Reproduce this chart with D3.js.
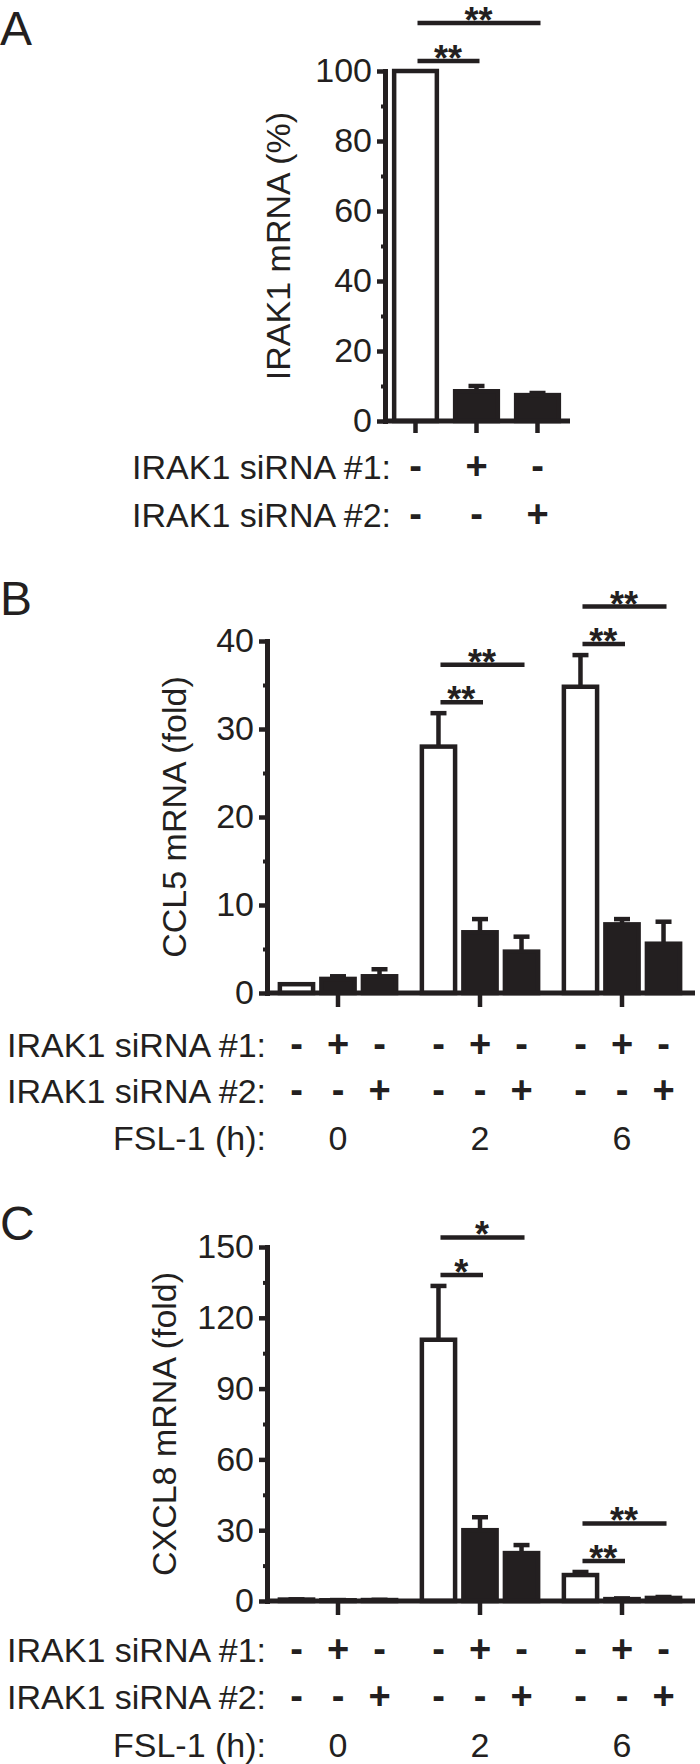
<!DOCTYPE html>
<html>
<head>
<meta charset="utf-8">
<script src="https://cdn.jsdelivr.net/npm/d3@7/dist/d3.min.js"></script>
<style>
  body { margin: 0; background: #fff; }
  svg text { font-family: "Liberation Sans", Arial, sans-serif; fill: #231f20; }
</style>
</head>
<body>
<div id="chart"></div>
<script>
// ---- data ----
const ink = "#231f20";

// panel A: IRAK1 knockdown
const irakValues = [100, 8.5, 7.4];
const irakErrors = [0, 1.5, 0.6];
const irakTicks = [0, 20, 40, 60, 80, 100];
const irakMinor = [10, 30, 50, 70, 90];
const irakSig = [{ from: 0, to: 1, level: 0, label: "**" }, { from: 0, to: 2, level: 1, label: "**" }];

// shared row labels
const si1Row = ["-", "+", "-"];
const si2Row = ["-", "-", "+"];
const fslHours = ["0", "2", "6"];

// panel B: CCL5 (one array per FSL-1 time point)
const ccl5Values = [[1.0, 1.6, 1.9], [28.0, 6.9, 4.7], [34.8, 7.8, 5.6]];
const ccl5Errors = [[0, 0.3, 0.8], [3.8, 1.5, 1.7], [3.6, 0.6, 2.5]];
const ccl5Ticks = [0, 10, 20, 30, 40];
const ccl5Minor = [5, 15, 25, 35];
const ccl5Sig = [
  { group: 1, from: 0, to: 1, level: 0, label: "**" }, { group: 1, from: 0, to: 2, level: 1, label: "**" },
  { group: 2, from: 0, to: 1, level: 0, label: "**" }, { group: 2, from: 0, to: 2, level: 1, label: "**" }
];

// panel C: CXCL8
const cxcl8Values = [[0.6, 0.3, 0.4], [110.7, 30.0, 20.3], [11.0, 0.8, 1.3]];
const cxcl8Errors = [[0.1, 0.1, 0.1], [22.8, 5.5, 3.4], [1.3, 0.3, 0.4]];
const cxcl8Ticks = [0, 30, 60, 90, 120, 150];
const cxcl8Minor = [15, 45, 75, 105, 135];
const cxcl8Sig = [
  { group: 1, from: 0, to: 1, level: 0, label: "*" }, { group: 1, from: 0, to: 2, level: 1, label: "*" },
  { group: 2, from: 0, to: 1, level: 0, label: "**" }, { group: 2, from: 0, to: 2, level: 1, label: "**" }
];

const W = 700, H = 1764;
const svg = d3.select("#chart").append("svg").attr("width", W).attr("height", H);

const SW = 4.5;       // stroke width for bars / lines
const FS = 34;        // general font size

function drawYAxis(g, y, x0, ticks, minor, labelX, title) {
  const ax = g.append("g").attr("transform", `translate(${x0},0)`)
    .call(d3.axisLeft(y).tickValues(ticks).tickSize(8).tickSizeOuter(0).tickPadding(5));
  ax.select(".domain").attr("stroke", ink).attr("stroke-width", 5).attr("stroke-linecap", "square");
  ax.selectAll(".tick line").attr("stroke", ink).attr("stroke-width", 4.5);
  ax.selectAll(".tick text").attr("font-size", FS).attr("font-family", null).attr("fill", ink);
  const mn = g.append("g").attr("transform", `translate(${x0},0)`)
    .call(d3.axisLeft(y).tickValues(minor).tickSize(4).tickFormat(""));
  mn.select(".domain").remove();
  mn.selectAll(".tick line").attr("stroke", ink).attr("stroke-width", 4);
  const [r0, r1] = y.range();
  g.append("text")
    .attr("transform", `translate(${labelX},${(r0 + r1) / 2}) rotate(-90)`)
    .attr("text-anchor", "middle")
    .attr("font-size", FS)
    .text(title);
}

function drawBar(g, cx, bw, y, v, e, white) {
  if (e > 0) {
    g.append("line").attr("x1", cx).attr("x2", cx).attr("y1", y(v)).attr("y2", y(v + e))
      .attr("stroke", ink).attr("stroke-width", SW);
    g.append("line").attr("x1", cx - 8).attr("x2", cx + 8).attr("y1", y(v + e)).attr("y2", y(v + e))
      .attr("stroke", ink).attr("stroke-width", SW);
  }
  g.append("rect")
    .attr("x", cx - bw / 2).attr("y", y(v))
    .attr("width", bw).attr("height", y(0) - y(v))
    .attr("fill", white ? "#fff" : ink)
    .attr("stroke", ink).attr("stroke-width", SW);
}

function drawSig(g, x1, x2, yLine, label) {
  g.append("line").attr("x1", x1 + 2).attr("x2", x2 + 3).attr("y1", yLine).attr("y2", yLine)
    .attr("stroke", ink).attr("stroke-width", SW);
  g.append("text").attr("x", (x1 + x2) / 2 + 2).attr("y", yLine + 10)
    .attr("text-anchor", "middle").attr("font-size", 36).attr("font-weight", "bold").text(label);
}

function drawRow(g, xs, yBase, labelX, label, marks, bold) {
  g.append("text").attr("x", labelX).attr("y", yBase).attr("text-anchor", "end")
    .attr("font-size", FS).text(label);
  marks.forEach((m, i) => {
    g.append("text").attr("x", xs[i]).attr("y", yBase).attr("text-anchor", "middle")
      .attr("font-size", bold ? 38 : FS).attr("font-weight", bold ? "bold" : null).text(m);
  });
}

function panelLetter(txt, yb) {
  svg.append("text").attr("x", 0).attr("y", yb).attr("font-size", 48).text(txt);
}

// ---------- Panel A ----------
{
  const g = svg.append("g");
  const axisX = 385;
  const y = d3.scaleLinear().domain([0, 100]).range([421, 71]);
  const x = d3.scaleBand().domain(d3.range(irakValues.length)).range([axisX, 568])
    .paddingInner(0.3).paddingOuter(0.15);
  const cx = i => x(i) + x.bandwidth() / 2;

  irakValues.forEach((v, i) => drawBar(g, cx(i), x.bandwidth(), y, v, irakErrors[i], i === 0));

  // x axis and ticks under each bar
  g.append("line").attr("x1", axisX).attr("x2", 570).attr("y1", y(0)).attr("y2", y(0))
    .attr("stroke", ink).attr("stroke-width", 5);
  irakValues.forEach((v, i) => {
    g.append("line").attr("x1", cx(i)).attr("x2", cx(i)).attr("y1", y(0)).attr("y2", y(0) + 12)
      .attr("stroke", ink).attr("stroke-width", 4.5);
  });
  drawYAxis(g, y, axisX, irakTicks, irakMinor, 290, "IRAK1 mRNA (%)");

  const top = d3.max(irakValues.map((v, i) => v + irakErrors[i]));
  irakSig.forEach(s => drawSig(g, cx(s.from), cx(s.to), y(top) - 10 - s.level * 38, s.label));

  const xs = irakValues.map((v, i) => cx(i));
  drawRow(g, xs, y(0) + 58, 391, "IRAK1 siRNA #1:", si1Row, true);
  drawRow(g, xs, y(0) + 106, 391, "IRAK1 siRNA #2:", si2Row, true);
  panelLetter("A", 45);
}

// ---------- Panels B and C ----------
function groupedPanel(values, errors, ticks, minor, sigs, yTop, y0, labelX, title, rowOffsets, letter, letterY) {
  const g = svg.append("g");
  const axisX = 267;
  const y = d3.scaleLinear().domain([0, ticks[ticks.length - 1]]).range([y0, yTop]);
  const gx = d3.scaleBand().domain(d3.range(values.length)).range([axisX, 693]);
  const ix = d3.scaleBand().domain([0, 1, 2]).range([0, gx.bandwidth()]).paddingInner(0.2).paddingOuter(0.31);
  const cx = (gi, bi) => gx(gi) + ix(bi) + ix.bandwidth() / 2;

  values.forEach((grp, gi) => grp.forEach((v, bi) =>
    drawBar(g, cx(gi, bi), ix.bandwidth(), y, v, errors[gi][bi], bi === 0)));

  g.append("line").attr("x1", axisX).attr("x2", 695).attr("y1", y(0)).attr("y2", y(0))
    .attr("stroke", ink).attr("stroke-width", 5);
  values.forEach((grp, gi) => {
    const c = gx(gi) + gx.bandwidth() / 2;
    g.append("line").attr("x1", c).attr("x2", c).attr("y1", y(0)).attr("y2", y(0) + 14)
      .attr("stroke", ink).attr("stroke-width", 4.5);
  });
  drawYAxis(g, y, axisX, ticks, minor, labelX, title);

  sigs.forEach(s => {
    const top = d3.max(values[s.group].map((v, i) => v + errors[s.group][i]));
    drawSig(g, cx(s.group, s.from), cx(s.group, s.to), y(top) - 11 - s.level * 37.5, s.label);
  });

  const xs = [], xsGroup = [];
  values.forEach((grp, gi) => {
    grp.forEach((v, bi) => xs.push(cx(gi, bi)));
    xsGroup.push(gx(gi) + gx.bandwidth() / 2);
  });
  const rep = arr => values.flatMap(() => arr);
  drawRow(g, xs, y(0) + rowOffsets[0], 266, "IRAK1 siRNA #1:", rep(si1Row), true);
  drawRow(g, xs, y(0) + rowOffsets[1], 266, "IRAK1 siRNA #2:", rep(si2Row), true);
  drawRow(g, xsGroup, y(0) + rowOffsets[2], 266, "FSL-1 (h):", fslHours, false);
  panelLetter(letter, letterY);
}

groupedPanel(ccl5Values, ccl5Errors, ccl5Ticks, ccl5Minor, ccl5Sig, 641, 993, 186,
  "CCL5 mRNA (fold)", [64, 110, 157], "B", 615);
groupedPanel(cxcl8Values, cxcl8Errors, cxcl8Ticks, cxcl8Minor, cxcl8Sig, 1247, 1601, 176,
  "CXCL8 mRNA (fold)", [61, 108, 156], "C", 1240);
</script>
</body>
</html>
